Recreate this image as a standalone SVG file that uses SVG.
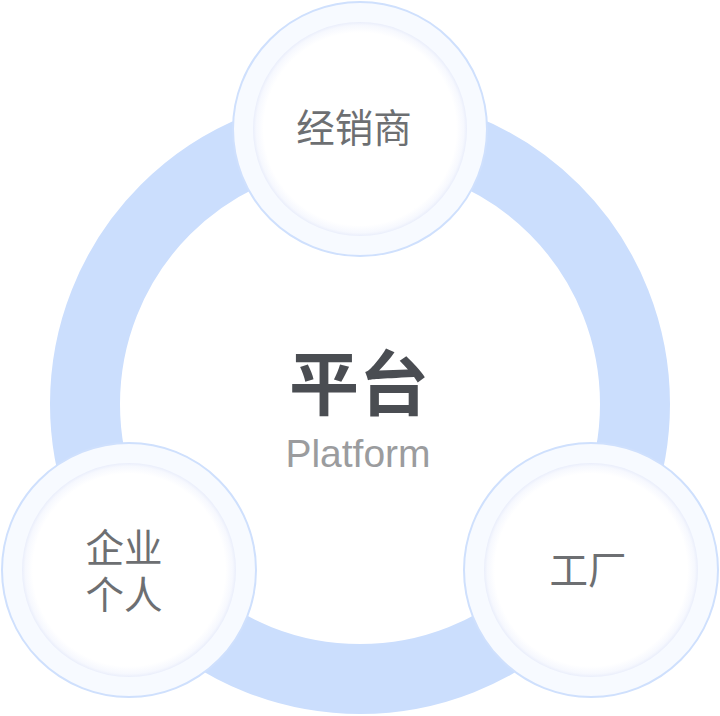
<svg xmlns="http://www.w3.org/2000/svg" width="720" height="716" viewBox="0 0 720 716">
<defs>
<radialGradient id="inner" cx="50%" cy="50%" r="50%">
<stop offset="0.9" stop-color="#ffffff"/>
<stop offset="0.97" stop-color="#f6f8fe"/>
<stop offset="1" stop-color="#eaeefb"/>
</radialGradient>
<style>
.outer{fill:#f7faff;stroke:#cfe0fd;stroke-width:2}
.inner{fill:url(#inner)}
.lbl{font-family:"Noto Sans CJK SC","Noto Sans",sans-serif;font-size:38.5px;fill:#6d6f72;text-anchor:middle}
</style>
</defs>
<rect width="720" height="716" fill="#ffffff"/>
<g id="connectors">
<circle cx="360" cy="404" r="275" fill="none" stroke="#cbdefd" stroke-width="70"/>
</g>
<g id="center">
<text x="359" y="410" font-family="'Noto Sans CJK SC',sans-serif" font-size="70" font-weight="bold" fill="#4a4d52" text-anchor="middle">平台</text>
<text x="358" y="467" font-family="'Liberation Sans',Arial,sans-serif" font-size="39" fill="#9b9c9e" text-anchor="middle">Platform</text>
</g>
<g id="node-dealer">
<circle class="outer" cx="360" cy="129" r="127"/>
<circle class="inner" cx="360" cy="129" r="107"/>
<text class="lbl" x="354" y="142">经销商</text>
</g>
<g id="node-enterprise">
<circle class="outer" cx="129" cy="570" r="127"/>
<circle class="inner" cx="129" cy="570" r="107"/>
<text class="lbl"><tspan x="124" y="562">企业</tspan><tspan x="124" y="609">个人</tspan></text>
</g>
<g id="node-factory">
<circle class="outer" cx="591" cy="570" r="127"/>
<circle class="inner" cx="591" cy="570" r="107"/>
<text class="lbl" x="588" y="584">工厂</text>
</g>
</svg>
